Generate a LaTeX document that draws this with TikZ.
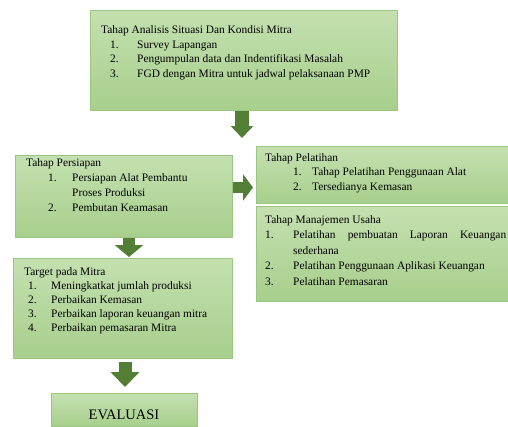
\documentclass[tikz,border=0pt]{standalone}
\usepackage{fontspec}
\setmainfont{Liberation Serif}
\usetikzlibrary{arrows.meta}
\definecolor{boxtop}{HTML}{C4E0B0}
\definecolor{boxbot}{HTML}{A7CF8C}
\definecolor{boxline}{HTML}{9CC583}
\definecolor{arrowgreen}{HTML}{527F35}
\tikzset{stagebox/.style={draw=boxline, line width=0.8pt, top color=boxtop,
    bottom color=boxbot, inner sep=0pt, anchor=north west},
  stagetext/.style={anchor=north west, inner sep=0pt, align=left},
  blockarrow/.style n args={3}{draw=arrowgreen, line width=#1,
    -{Triangle[width=#2, length=#3]}},}
% numbered line: offset of number, width of number column, number, text
\newcommand{\stepitem}[4]{\hspace*{#1}\makebox[#2][l]{#3}#4}

\begin{document}
\begin{tikzpicture}[x=1pt, y=-1pt]
                    \useasboundingbox (0,0) rectangle (508,426);
                    %Boxes:
                    \node[stagebox, minimum width=307pt, minimum height=100pt] (analisis) at (90,10) {};
                    \node[stagebox, minimum width=217pt, minimum height=82pt] (persiapan) at (15,155) {};
                    \node[stagebox, minimum width=252pt, minimum height=57pt] (pelatihan) at (256,146) {};
                    \node[stagebox, minimum width=252pt, minimum height=95pt] (manajemen) at (256,206) {};
                    \node[stagebox, minimum width=219pt, minimum height=100pt] (target) at (13,258) {};
                    \node[stagebox, minimum width=146pt, minimum height=33pt] (evaluasi) at (51,393) {};
                    %Texts in the boxes:
                    \node[stagetext, font=\fontsize{11.4}{14.5}\selectfont] (analisistext) at (101,25.5) {%
                        Tahap Analisis Situasi Dan Kondisi Mitra\\
                        \stepitem{9pt}{27pt}{1.}{Survey Lapangan}\\
                        \stepitem{9pt}{27pt}{2.}{Pengumpulan data dan Indentifikasi Masalah}\\
                        \stepitem{9pt}{27pt}{3.}{FGD dengan Mitra untuk jadwal pelaksanaan PMP}};
                    \node[stagetext, font=\fontsize{11.4}{15}\selectfont] (persiapantext) at (26,158) {%
                        Tahap Persiapan\\
                        \stepitem{22pt}{24pt}{1.}{Persiapan Alat Pembantu}\\
                        \hspace*{46pt}Proses Produksi\\
                        \stepitem{22pt}{24pt}{2.}{Pembutan Keamasan}};
                    \node[stagetext, font=\fontsize{11.4}{14.5}\selectfont] (pelatihantext) at (265,153) {%
                        Tahap Pelatihan\\
                        \stepitem{28pt}{19pt}{1.}{Tahap Pelatihan Penggunaan Alat}\\
                        \stepitem{28pt}{19pt}{2.}{Tersedianya Kemasan}};
                    \node[stagetext, font=\fontsize{11.4}{15.5}\selectfont] (manajementext) at (265,215) {%
                        Tahap Manajemen Usaha\\
                        \stepitem{0pt}{28pt}{1.}{\makebox[213pt]{Pelatihan\hfill pembuatan\hfill Laporan\hfill Keuangan}}\\
                        \hspace*{28pt}sederhana\\
                        \stepitem{0pt}{28pt}{2.}{Pelatihan Penggunaan Aplikasi Keuangan}\\
                        \stepitem{0pt}{28pt}{3.}{Pelatihan Pemasaran}};
                    \node[stagetext, font=\fontsize{11.4}{14}\selectfont] (targettext) at (24,267.5) {%
                        Target pada Mitra\\
                        \stepitem{4pt}{23pt}{1.}{Meningkatkat jumlah produksi}\\
                        \stepitem{4pt}{23pt}{2.}{Perbaikan Kemasan}\\
                        \stepitem{4pt}{23pt}{3.}{Perbaikan laporan keuangan mitra}\\
                        \stepitem{4pt}{23pt}{4.}{Perbaikan pemasaran Mitra}};
                    \node[font=\fontsize{14.5}{17}\selectfont, inner sep=0pt] (evaluasitext) at (124,415) {EVALUASI};
                    %Block arrows:
                    \coordinate (tipa) at (242,138);
                    \coordinate (tipb) at (253,187.5);
                    \coordinate (tipc) at (129,257);
                    \coordinate (tipd) at (125,387);
                    \coordinate (taild) at (125,362);
                        \draw[blockarrow={14pt}{22pt}{12pt}] (analisis.south -| tipa) -- (tipa);
                        \draw[blockarrow={11pt}{26pt}{10pt}] (persiapan.east |- tipb) -- (tipb);
                        \draw[blockarrow={12pt}{28pt}{12pt}] (persiapan.south -| tipc) -- (tipc);
                        \draw[blockarrow={13pt}{28pt}{15pt}] (taild) -- (tipd);
                \end{tikzpicture}
\end{document}
